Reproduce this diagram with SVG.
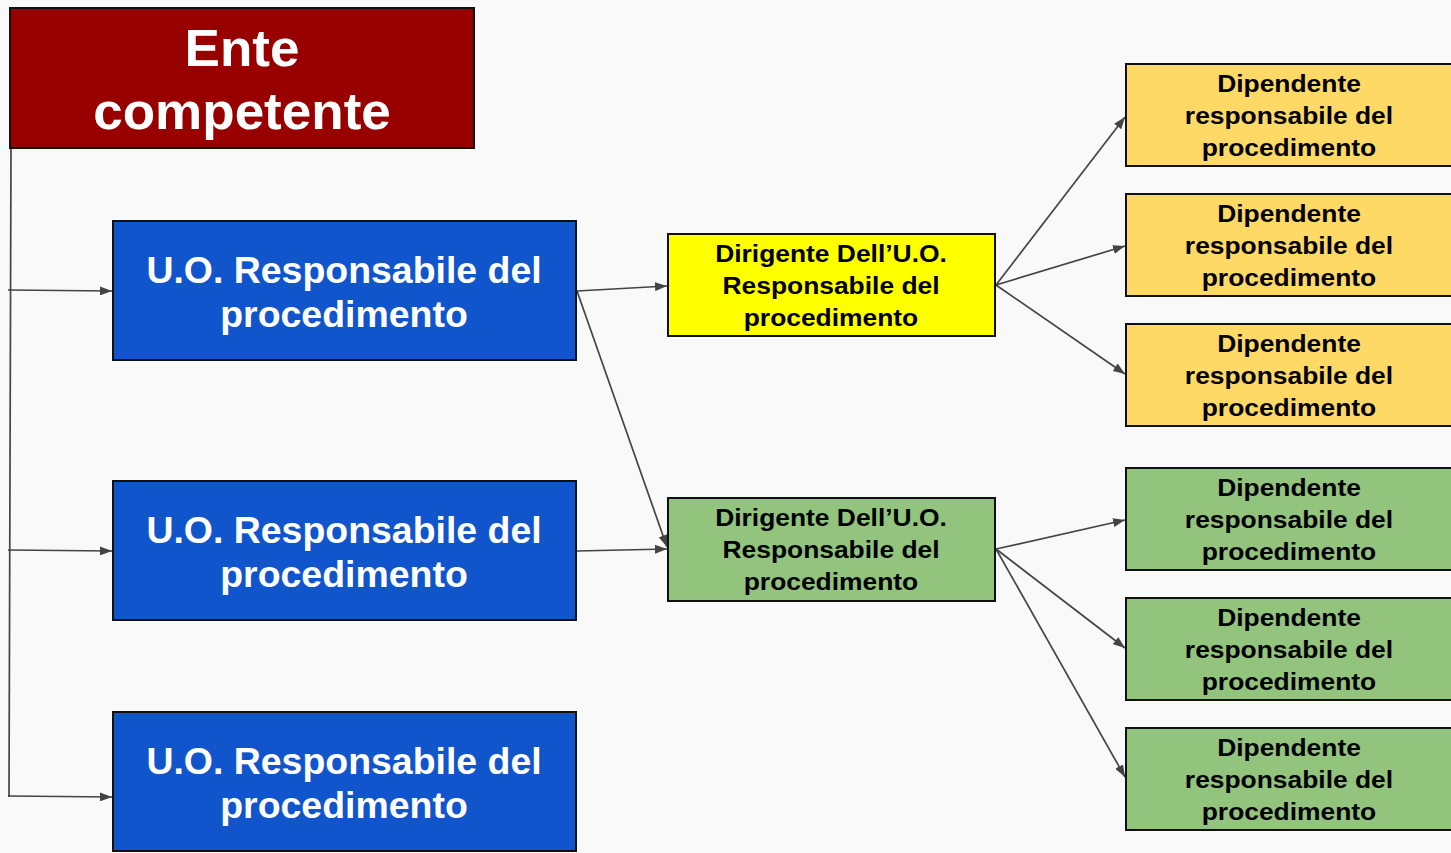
<svg xmlns="http://www.w3.org/2000/svg" width="1451" height="853" viewBox="0 0 1451 853">
<defs>
<marker id="ah" markerWidth="12" markerHeight="9" refX="12" refY="4.5" orient="auto" markerUnits="userSpaceOnUse">
<path d="M0,0 L12,4.5 L0,9 Z" fill="#444"/>
</marker>
<style>
.box{stroke:#111;stroke-width:2}
.t{font-family:"Liberation Sans",Arial,sans-serif;font-weight:bold;text-anchor:middle}
.w{fill:#fff}
.k{fill:#000}
.c{stroke:#444;stroke-width:1.7;fill:none}
.ca{stroke:#444;stroke-width:1.7;fill:none;marker-end:url(#ah)}
</style>
</defs>
<rect width="1451" height="853" fill="#f9f9f9"/>
<g id="connectors">
<path class="c" d="M11,148 L9,797"/>
<path class="ca" d="M8,290 L112,291"/>
<path class="ca" d="M8,550 L112,551"/>
<path class="ca" d="M8,796 L112,797"/>
<path class="ca" d="M577,291 L667,286"/>
<path class="ca" d="M577,291 L667,547"/>
<path class="ca" d="M577,551 L667,549"/>
<path class="ca" d="M996,285 L1125,117"/>
<path class="ca" d="M996,285 L1125,246"/>
<path class="ca" d="M996,285 L1125,374"/>
<path class="ca" d="M996,549 L1125,520"/>
<path class="ca" d="M996,549 L1125,648"/>
<path class="ca" d="M996,549 L1125,777"/>
</g>
<g id="ente">
<rect class="box" x="10" y="8" width="464" height="140" fill="#980000"/>
<g transform="translate(242 0) scale(1.02 1)">
<text class="t w" x="0" y="66" font-size="52">Ente</text>
<text class="t w" x="0" y="129" font-size="52">competente</text>
</g>
</g>
<g id="uo1">
<rect class="box" x="113" y="221" width="463" height="139" fill="#1155cc"/>
<g transform="translate(344 0) scale(1.04 1)">
<text class="t w" x="0" y="283" font-size="36">U.O. Responsabile del</text>
<text class="t w" x="0" y="327" font-size="36">procedimento</text>
</g>
</g>
<g id="uo2">
<rect class="box" x="113" y="481" width="463" height="139" fill="#1155cc"/>
<g transform="translate(344 0) scale(1.04 1)">
<text class="t w" x="0" y="543" font-size="36">U.O. Responsabile del</text>
<text class="t w" x="0" y="587" font-size="36">procedimento</text>
</g>
</g>
<g id="uo3">
<rect class="box" x="113" y="712" width="463" height="139" fill="#1155cc"/>
<g transform="translate(344 0) scale(1.04 1)">
<text class="t w" x="0" y="774" font-size="36">U.O. Responsabile del</text>
<text class="t w" x="0" y="818" font-size="36">procedimento</text>
</g>
</g>
<g id="dir1">
<rect class="box" x="668" y="234" width="327" height="102" fill="#ffff00"/>
<g transform="translate(831 0) scale(1.1 1)">
<text class="t k" x="0" y="262" font-size="24">Dirigente Dell’U.O.</text>
<text class="t k" x="0" y="294" font-size="24">Responsabile del</text>
<text class="t k" x="0" y="326" font-size="24">procedimento</text>
</g>
</g>
<g id="dir2">
<rect class="box" x="668" y="498" width="327" height="103" fill="#93c47d"/>
<g transform="translate(831 0) scale(1.1 1)">
<text class="t k" x="0" y="526" font-size="24">Dirigente Dell’U.O.</text>
<text class="t k" x="0" y="558" font-size="24">Responsabile del</text>
<text class="t k" x="0" y="590" font-size="24">procedimento</text>
</g>
</g>
<g id="dep1">
<rect class="box" x="1126" y="64" width="330" height="102" fill="#ffd966"/>
<g transform="translate(1289 0) scale(1.1 1)">
<text class="t k" x="0" y="92" font-size="24">Dipendente</text>
<text class="t k" x="0" y="124" font-size="24">responsabile del</text>
<text class="t k" x="0" y="156" font-size="24">procedimento</text>
</g>
</g>
<g id="dep2">
<rect class="box" x="1126" y="194" width="330" height="102" fill="#ffd966"/>
<g transform="translate(1289 0) scale(1.1 1)">
<text class="t k" x="0" y="222" font-size="24">Dipendente</text>
<text class="t k" x="0" y="254" font-size="24">responsabile del</text>
<text class="t k" x="0" y="286" font-size="24">procedimento</text>
</g>
</g>
<g id="dep3">
<rect class="box" x="1126" y="324" width="330" height="102" fill="#ffd966"/>
<g transform="translate(1289 0) scale(1.1 1)">
<text class="t k" x="0" y="352" font-size="24">Dipendente</text>
<text class="t k" x="0" y="384" font-size="24">responsabile del</text>
<text class="t k" x="0" y="416" font-size="24">procedimento</text>
</g>
</g>
<g id="dep4">
<rect class="box" x="1126" y="468" width="330" height="102" fill="#93c47d"/>
<g transform="translate(1289 0) scale(1.1 1)">
<text class="t k" x="0" y="496" font-size="24">Dipendente</text>
<text class="t k" x="0" y="528" font-size="24">responsabile del</text>
<text class="t k" x="0" y="560" font-size="24">procedimento</text>
</g>
</g>
<g id="dep5">
<rect class="box" x="1126" y="598" width="330" height="102" fill="#93c47d"/>
<g transform="translate(1289 0) scale(1.1 1)">
<text class="t k" x="0" y="626" font-size="24">Dipendente</text>
<text class="t k" x="0" y="658" font-size="24">responsabile del</text>
<text class="t k" x="0" y="690" font-size="24">procedimento</text>
</g>
</g>
<g id="dep6">
<rect class="box" x="1126" y="728" width="330" height="102" fill="#93c47d"/>
<g transform="translate(1289 0) scale(1.1 1)">
<text class="t k" x="0" y="756" font-size="24">Dipendente</text>
<text class="t k" x="0" y="788" font-size="24">responsabile del</text>
<text class="t k" x="0" y="820" font-size="24">procedimento</text>
</g>
</g>
</svg>
